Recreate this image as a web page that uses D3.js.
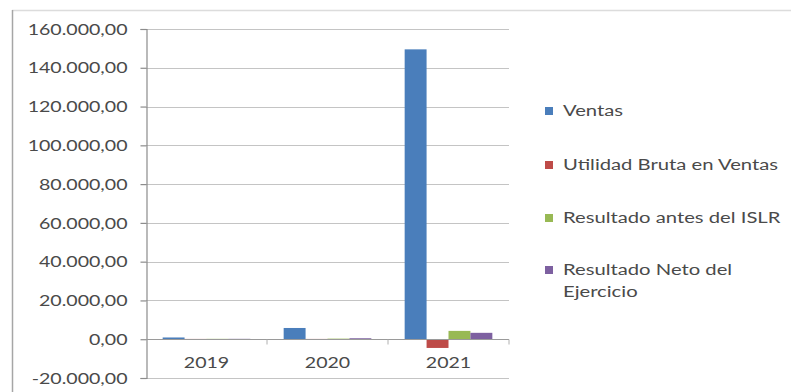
<!DOCTYPE html>
<html>
<head>
<meta charset="utf-8">
<script src="https://cdn.jsdelivr.net/npm/d3@7"></script>
<style>
  html, body { margin: 0; padding: 0; background: #fff; }
  svg { display: block; }
  text { font-family: Lato, "Open Sans", sans-serif; fill: #4a4a4a; }
</style>
</head>
<body>
<svg id="chart" width="791" height="392"></svg>
<script>
// Estados financieros 2019-2021
const years = ["2019", "2020", "2021"];
const seriesNames = ["Ventas", "Utilidad Bruta en Ventas", "Resultado antes del ISLR", "Resultado Neto del Ejercicio"];
const seriesColors = ["#4a7ebb", "#be4b48", "#98b954", "#7d60a0"];
const ventas = [900, 5800, 149500];
const utilidadBruta = [150, 150, -4500];
const resultadoAntesISLR = [200, 300, 4300];
const resultadoNeto = [200, 500, 3300];
const yTicks = [-20000, 0, 20000, 40000, 60000, 80000, 100000, 120000, 140000, 160000];

const seriesValues = [ventas, utilidadBruta, resultadoAntesISLR, resultadoNeto];
const rows = years.map((yr, i) => ({
  year: yr,
  values: seriesNames.map((s, k) => ({ key: s, value: seriesValues[k][i], color: seriesColors[k] }))
}));

const svg = d3.select("#chart");
const stretch = 1.35;           // horizontal widening of the lettering
const plotLeft = 146, plotRight = 509, plotTop = 29, plotBottom = 378;

// outer frame
svg.append("line").attr("x1", 12).attr("x2", 791).attr("y1", 10.5).attr("y2", 10.5)
  .attr("stroke", "#dcdcdc").attr("stroke-width", 1.5);
svg.append("line").attr("x1", 12.5).attr("x2", 12.5).attr("y1", 10).attr("y2", 392)
  .attr("stroke", "#a6a6a6").attr("stroke-width", 1.5);

const x = d3.scaleBand().domain(years).range([plotLeft, plotRight]).paddingInner(0).paddingOuter(0);
const xi = d3.scaleBand().domain(seriesNames).range([0, x.bandwidth()]).paddingInner(0).paddingOuter(0.76);
const y = d3.scaleLinear().domain([-20000, 160000]).range([plotBottom, plotTop]);

// horizontal gridlines
svg.append("g").selectAll("line").data(yTicks).join("line")
  .attr("x1", plotLeft).attr("x2", plotRight)
  .attr("y1", d => Math.round(y(d)) + 0.5).attr("y2", d => Math.round(y(d)) + 0.5)
  .attr("stroke", "#c4c4c4").attr("stroke-width", 1.2);

// value axis
const fmt = d => {
  const s = d3.format(",.2f")(Math.abs(d)).replace(/,/g, "#").replace(".", ",").replace(/#/g, ".");
  return (d < 0 ? "-" : "") + s;
};
const yAxis = svg.append("g").attr("transform", `translate(${plotLeft + 0.5},0)`)
  .call(d3.axisLeft(y).tickValues(yTicks).tickFormat(fmt).tickSize(6).tickPadding(0));
yAxis.select(".domain").attr("stroke", "#8c8c8c").attr("stroke-width", 1.2);
yAxis.selectAll(".tick line").attr("stroke", "#8c8c8c").attr("stroke-width", 1.2);
yAxis.selectAll(".tick text")
  .attr("x", 0).attr("dy", "0.36em")
  .attr("transform", `translate(-19,0) scale(${stretch},1)`)
  .style("font-size", "14.5px").style("fill", "#4a4a4a");

// bars
const groups = svg.append("g").selectAll("g").data(rows).join("g")
  .attr("transform", d => `translate(${x(d.year)},0)`);
groups.selectAll("rect").data(d => d.values).join("rect")
  .attr("x", d => xi(d.key))
  .attr("width", xi.bandwidth())
  .attr("y", d => y(Math.max(0, d.value)))
  .attr("height", d => Math.abs(y(d.value) - y(0)))
  .attr("fill", d => d.color);

// category axis at zero
const xAxis = svg.append("g").attr("transform", `translate(0,${Math.round(y(0)) + 0.5})`);
xAxis.append("line").attr("x1", plotLeft).attr("x2", plotRight).attr("stroke", "#9a9a9a").attr("stroke-width", 1.2);
xAxis.selectAll("line.tk").data(years.slice(1).map(d => x(d)).concat([plotRight])).join("line")
  .attr("class", "tk").attr("x1", d => d).attr("x2", d => d).attr("y1", 0).attr("y2", 5)
  .attr("stroke", "#b0b0b0");
xAxis.selectAll("text").data(years).join("text")
  .attr("text-anchor", "middle").attr("dy", "0.36em")
  .attr("transform", d => `translate(${x(d) + x.bandwidth() / 2},23) scale(${stretch},1)`)
  .style("font-size", "14.5px").style("fill", "#4a4a4a")
  .text(d => d);

// legend
const legendRows = [[seriesNames[0]], [seriesNames[1]], [seriesNames[2]], ["Resultado Neto del", "Ejercicio"]];
const legend = svg.append("g");
const legendY = [111, 165, 218, 270];
legendRows.forEach((lines, i) => {
  legend.append("rect").attr("x", 545).attr("y", legendY[i] - 4).attr("width", 8).attr("height", 8)
    .attr("fill", seriesColors[i]);
  lines.forEach((t, j) => {
    legend.append("text").attr("dy", "0.36em")
      .attr("transform", `translate(563,${legendY[i] + j * 22}) scale(${stretch},1)`)
      .style("font-size", "15px").style("fill", "#4a4a4a")
      .text(t);
  });
});
</script>
</body>
</html>
